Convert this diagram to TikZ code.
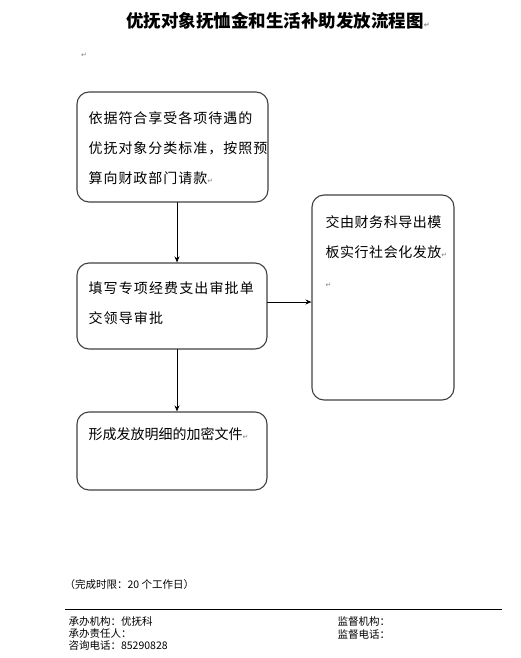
\documentclass[tikz,border=0pt]{standalone}
\usepackage{fontspec}
\usetikzlibrary{arrows.meta}
\newfontfamily\cjk{Noto Sans CJK SC}
\newfontfamily\symfont{DejaVu Sans}
\newcommand\parmark{{\symfont\fontsize{7}{7}\selectfont\textcolor{gray}{↵}}}

\begin{document}
\begin{tikzpicture}[x=1pt, y=-1pt, line width=1.1pt, line cap=round, line join=round,
  flowbox/.style={draw=black!75, rounded corners=12pt, inner sep=0pt},
  boxtext/.style={anchor=west, inner sep=0pt, align=left, font=\cjk\fontsize{14}{30}\selectfont},
  spaced/.style={font=\cjk\fontsize{14}{30}\selectfont\addfontfeature{LetterSpace=#1}},
  foot/.style={anchor=west, inner sep=0pt, font=\cjk\fontsize{10.5}{10.5}\selectfont},
  flowarrow/.style={-{Stealth[length=6pt,width=5pt]}, line width=1pt}]

  %% ════ 标题 ════
  \node[inner sep=0pt, font=\cjk\bfseries\fontsize{17.5}{17.5}\selectfont] (title) at (278,21) {优抚对象抚恤金和生活补助发放流程图\parmark};
  \node[inner sep=0pt] (topmark) at (84,55) {\parmark};

  %% ════ 框 ════
  \node[flowbox, minimum width=191, minimum height=110] (yiju) at (172.5,147) {};
  \node[flowbox, minimum width=190, minimum height=86] (tianxie) at (172,306) {};
  \node[flowbox, minimum width=142, minimum height=205] (jiaoyou) at (383,297.5) {};
  \node[flowbox, minimum width=190, minimum height=78] (xingcheng) at (172,451) {};

  %% ════ 框内文字 ════
  \node[boxtext, spaced=7] (yiju-text) at (88,148) {依据符合享受各项待遇的\\优抚对象分类标准，按照预\\算向财政部门请款\parmark};
  \node[boxtext, spaced=8] (tianxie-text) at (88,303) {填写专项经费支出审批单\\交领导审批};
  \node[boxtext, spaced=4] (jiaoyou-text) at (325,252) {交由财务科导出模\\板实行社会化发放\parmark\\\parmark};
  \node[boxtext] (xingcheng-text) at (88,434) {形成发放明细的加密文件\parmark};

  %% ════ 箭头 ════
  \draw[flowarrow] ([xshift=4.5pt]yiju.south) -- ([xshift=5pt]tianxie.north);
  \draw[flowarrow] ([xshift=5pt]tianxie.south) -- ([xshift=5pt]xingcheng.north);
  \draw[flowarrow] ([yshift=4pt]tianxie.east) -- ([yshift=4pt]tianxie.east -| jiaoyou.west);

  %% ════ 页脚 ════
  \node[foot] (shixian) at (64,585) {（完成时限：20 个工作日）};
  \draw[line width=0.8pt, line cap=butt] (65,609) -- (502,609);
  \node[foot] (jigou) at (68,622) {承办机构：优抚科};
  \node[foot] (zeren) at (68,634) {承办责任人：};
  \node[foot] (dianhua) at (68,646) {咨询电话：85290828};
  \node[foot] (jiandu) at (337,622) {监督机构：};
  \node[foot] (jdianhua) at (337,634) {监督电话：};

  % 钉死画布
  \pgfresetboundingbox
  \path[use as bounding box] (0,0) rectangle (520,658);
\end{tikzpicture}
\end{document}
